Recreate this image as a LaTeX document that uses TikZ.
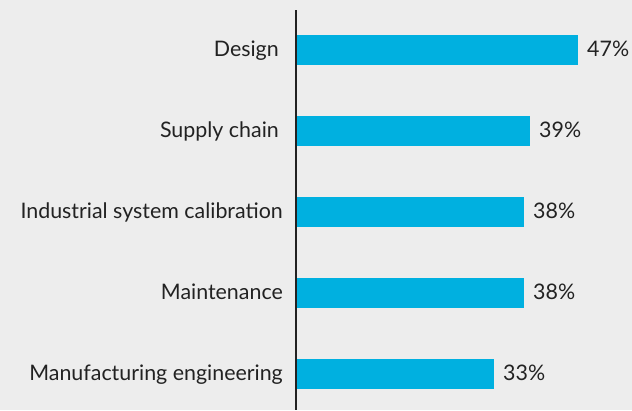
\documentclass[tikz,border=0pt]{standalone}
\usepackage{fontspec}
\setmainfont{Lato}
\definecolor{barblue}{HTML}{00B0E0}
\definecolor{bggray}{HTML}{EDEDED}
\definecolor{txtgray}{HTML}{222222}

\begin{document}
\begin{tikzpicture}[x=1pt,y=-1pt,
 lab/.style={anchor=base east,inner sep=0pt,text=txtgray,font=\fontsize{21.4}{21}\selectfont},
 pct/.style={anchor=base west,inner sep=0pt,text=txtgray,font=\fontsize{21.4}{21}\selectfont}]
 \fill[bggray] (0,0) rectangle (632,410); %background
 \useasboundingbox (0,0) rectangle (632,410);
 \coordinate (AT) at (296,10); %axis top
 \coordinate (AB) at (296,410); %axis bottom

 \fill[barblue] (296,35) rectangle (578,65); %47
 \fill[barblue] (296,116) rectangle (530,146); %39
 \fill[barblue] (296,197) rectangle (524,227); %38
 \fill[barblue] (296,278) rectangle (524,308); %38
 \fill[barblue] (296,359) rectangle (494,389); %33
 \draw[line width=1.5pt,txtgray] (AT)--(AB); %axis

 \node[lab] (design) at (279,56) {Design};
 \node[lab] (supply) at (279,137) {Supply chain};
 \node[lab] (calib) at (283,218) {Industrial system calibration};
 \node[lab] (maint) at (283,299) {Maintenance};
 \node[lab] (manuf) at (283,380) {Manufacturing engineering};

 \node[pct] (p1) at (587,56) {47\%};
 \node[pct] (p2) at (539,137) {39\%};
 \node[pct] (p3) at (533,218) {38\%};
 \node[pct] (p4) at (533,299) {38\%};
 \node[pct] (p5) at (503,380) {33\%};
\end{tikzpicture}
\end{document}
